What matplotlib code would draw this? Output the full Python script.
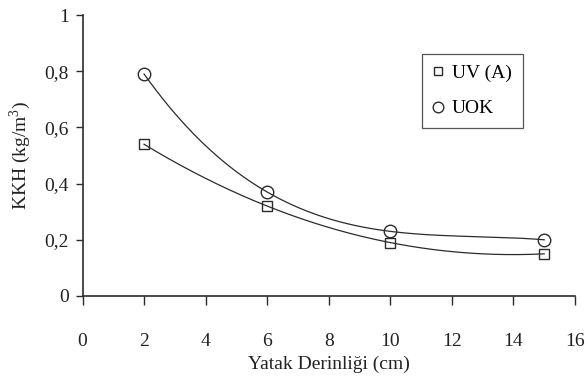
import numpy as np
import matplotlib
matplotlib.use("Agg")
import matplotlib.pyplot as plt
from matplotlib.ticker import FuncFormatter

plt.rcParams['font.family'] = ['Liberation Serif', 'DejaVu Serif']
plt.rcParams['mathtext.fontset'] = 'custom'
plt.rcParams['mathtext.rm'] = 'Liberation Serif'

# bed depth (cm) and measured values for the two runs
derinlik = [2, 6, 10, 15]
uv_a = [0.54, 0.32, 0.19, 0.15]
uok = [0.79, 0.37, 0.23, 0.20]

W, H = 587, 376
fig = plt.figure(figsize=(W / 100, H / 100), dpi=100)
ax = fig.add_axes([82.5 / W, 1 - 296 / H, (575 - 82.5) / W, (296 - 15) / H])

ink = '#2b2b2b'

# third order trend lines through each series
xs = np.linspace(min(derinlik), max(derinlik), 200)
for ys in (uv_a, uok):
    p = np.polyfit(derinlik, ys, 3)
    ax.plot(xs, np.polyval(p, xs), color=ink, lw=0.9)

ax.plot(derinlik, uv_a, 's', ms=7.5, mfc='none', mec=ink, mew=1.0, label='UV (A)')
ax.plot(derinlik, uok, 'o', ms=9, mfc='none', mec=ink, mew=1.0, label='UOK')

ax.set_xlim(0, 16)
ax.set_ylim(0, 1)
ax.set_xticks(range(0, 17, 2))
ax.set_yticks([0, 0.2, 0.4, 0.6, 0.8, 1])
ax.yaxis.set_major_formatter(FuncFormatter(lambda v, pos: ('%g' % round(v, 1)).replace('.', ',')))

for s in ('top', 'right'):
    ax.spines[s].set_visible(False)
for s in ('left', 'bottom'):
    ax.spines[s].set_color(ink)
    ax.spines[s].set_linewidth(1.2)
ax.tick_params(axis='both', direction='out', width=1.0, color=ink,
               labelsize=14, labelcolor='#222222')
ax.tick_params(axis='x', length=6.5, pad=20)
ax.tick_params(axis='y', length=5, pad=5)

ax.set_xlabel('Yatak Derinliği (cm)', fontsize=14, color='#222222', labelpad=4)
ax.set_ylabel('KKH (kg/m$^3$)', fontsize=14, color='#222222', labelpad=8)

leg = ax.legend(loc='upper left', bbox_to_anchor=(422 / W, 1 - 54 / H),
                bbox_transform=fig.transFigure, borderaxespad=0, frameon=True,
                fancybox=False, edgecolor=ink, fontsize=14, handlelength=0.5,
                handletextpad=0.5, labelspacing=0.9, borderpad=0.55,
                markerscale=0.85)
leg.get_frame().set_linewidth(0.9)

fig.savefig('out.png', dpi=100)
